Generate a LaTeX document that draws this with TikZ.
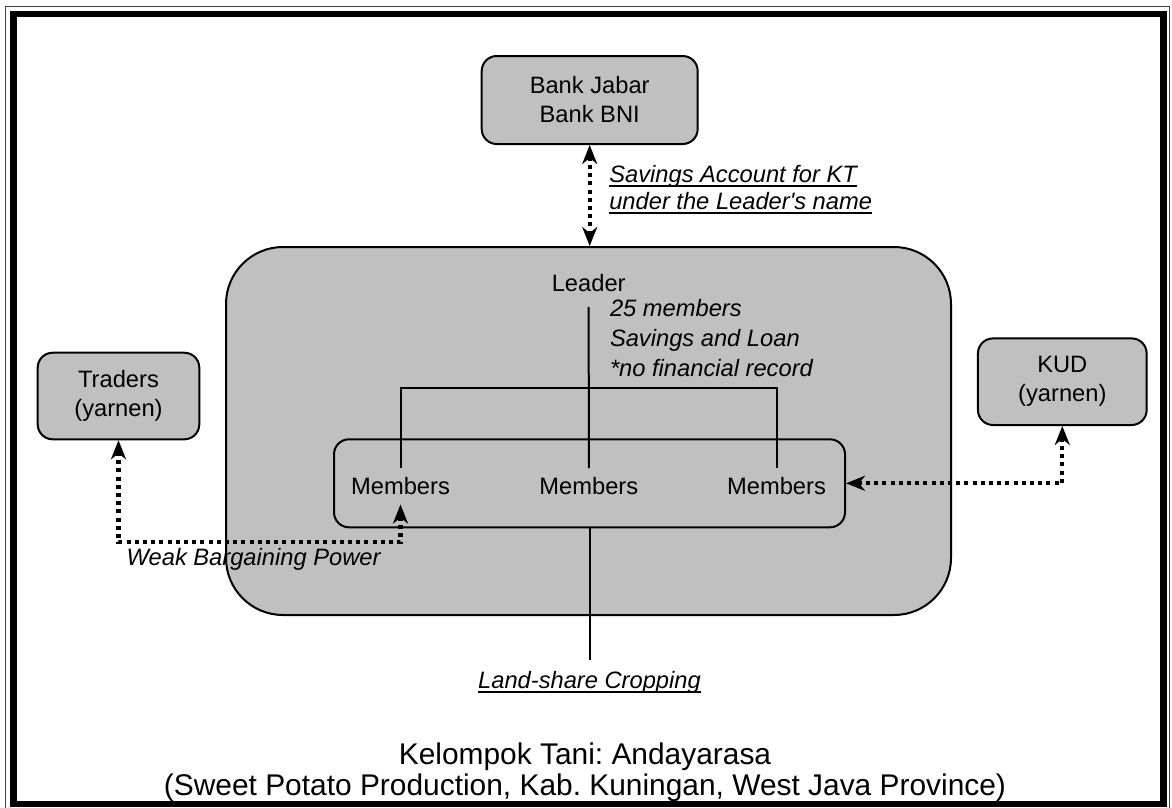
\documentclass[tikz,border=0pt]{standalone}
\usepackage{fontspec}
\newfontfamily\arialish{Liberation Sans}
\usetikzlibrary{arrows.meta,calc}
\definecolor{boxgray}{RGB}{192,192,192}
\frenchspacing
\newsavebox\ulbox
% underline drawn through the descenders, close to the baseline
\newcommand\ulined[1]{\sbox\ulbox{#1}\rlap{\rule[-4.5pt]{\wd\ulbox}{2pt}}\usebox\ulbox}
\begin{document}
\begin{tikzpicture}[x=1pt,y=-1pt,
  every node/.style={outer sep=0pt, font=\arialish\fontsize{23.7}{29}\selectfont},
  box/.style={draw, line width=2pt, fill=boxgray, rounded corners=15pt, inner sep=0pt, align=center},
  note/.style={inner sep=0pt, anchor=base west, align=left},
  member/.style={anchor=base, inner xsep=0pt, inner ysep=9pt},
  tree/.style={line width=2pt},
  dotarrow/.style={line width=4.2pt, dash pattern=on 4pt off 4.2pt, <->,
    >={Stealth[length=19pt,width=15pt,inset=6pt]}, shorten <=1pt, shorten >=1pt}]
\useasboundingbox (0,0) rectangle (1172,807);

% page frame: thin outer rule and heavy inner rule
\draw[line width=1.2pt, black!75] (5.5,6.5) rectangle (1169.5,815);
\draw[line width=6.5pt] (13.5,14) rectangle (1163.5,804);

% the farmer group and its members
\node[draw, line width=2pt, fill=boxgray, rounded corners=57pt, minimum width=725pt, minimum height=368pt] (group) at (588.5,431) {};
\node[draw, line width=2pt, rounded corners=15pt, minimum width=511pt, minimum height=88pt] (inner) at (589.5,483.3) {};

% outside partners
\node[box, minimum width=216pt, minimum height=88pt] (bank) at (589.7,100) {Bank Jabar\\Bank BNI};
\node[box, minimum width=161.6pt, minimum height=86.6pt] (traders) at (118.5,396) {Traders\\(yarnen)};
\node[box, minimum width=168.7pt, minimum height=86.6pt] (kud) at (1062.3,381.7) {KUD\\(yarnen)};

% organisation tree
\node[anchor=base, inner xsep=0pt, inner ysep=15pt] (leader) at (588.7,291.7) {Leader};
\node[member] (m1) at (400.5,494.3) {Members};
\node[member] (m2) at (588.8,494.3) {Members};
\node[member] (m3) at (776.5,494.3) {Members};
\coordinate (bar) at (589,387.7);
\draw[tree] (leader.south) -- (m2.north);
\draw[tree] (m1.north) |- (bar) -| (m3.north);

% base of a multi-line node is its last baseline
\node[note, font=\arialish\itshape\fontsize{23.7}{30}\selectfont] (info) at (610,376.7)
  {25 members\\Savings and Loan\\*no financial record};

% land sharing
\node[anchor=base, inner xsep=0pt, inner ysep=11pt, font=\arialish\itshape\fontsize{23.7}{29}\selectfont] (crop) at (589.5,688.3) {\ulined{Land-share Cropping}};
\draw[tree] (inner.south) -- (crop.north);

% links to the outside
\draw[dotarrow] (bank.south) -- (bank.south |- group.north);
\node[note, font=\arialish\itshape\fontsize{23.7}{27}\selectfont] (acct) at (609.3,209.3)
  {\ulined{Savings Account for KT}\\\ulined{under the Leader's name}};

\coordinate (wb) at (260,542.3);
\draw[dotarrow] (traders.south) |- (wb) -| (m1.south);
\node[note, font=\arialish\itshape\fontsize{23.7}{29}\selectfont] (wbp) at (126.7,565) {Weak Bargaining Power};

\draw[dotarrow] (kud.south) |- (inner.east);

% caption
\node[anchor=base, align=center, inner sep=0pt, font=\arialish\fontsize{29.9}{31}\selectfont] (title) at (585,795)
  {Kelompok Tani: Andayarasa\\(Sweet Potato Production, Kab. Kuningan, West Java Province)};
\end{tikzpicture}
\end{document}
